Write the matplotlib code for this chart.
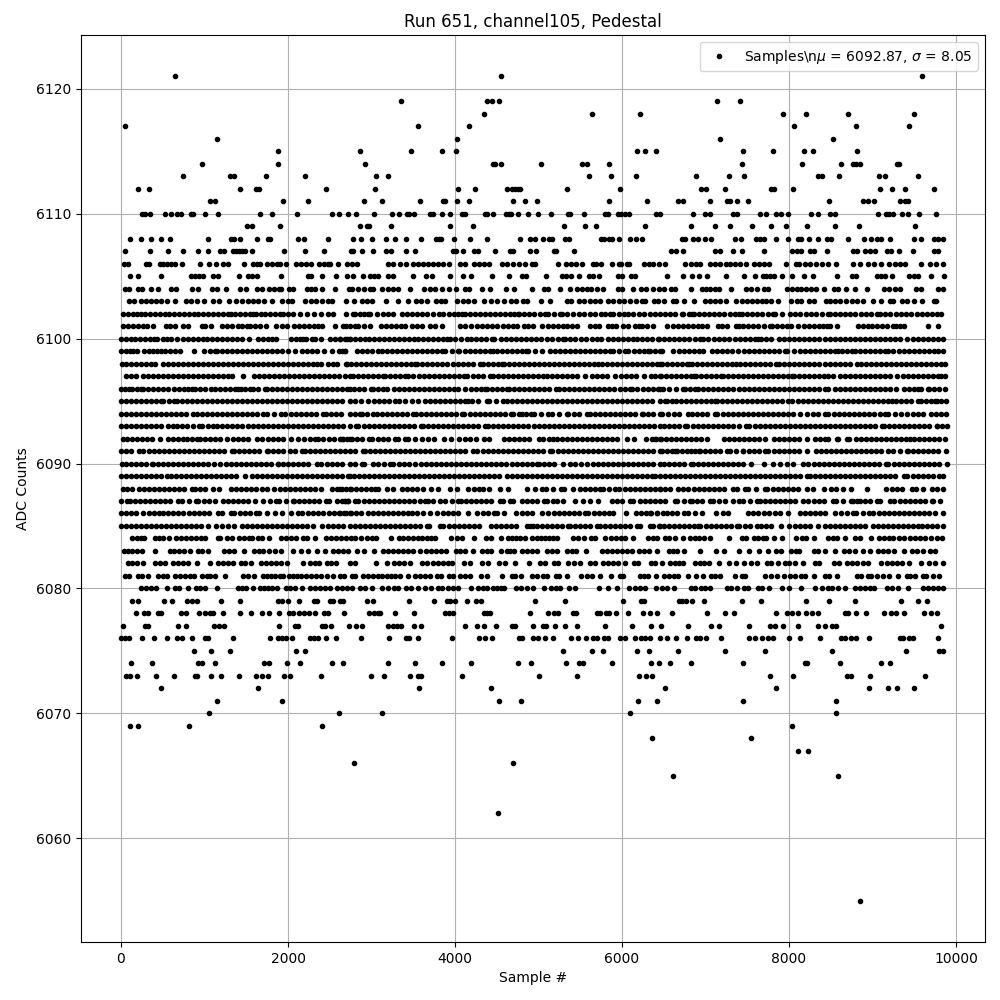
"""
Pedestal scatter for run 651, channel 105.
Sample positions are read off the picture, one list per ADC level.
Levels 6085-6102 are too dense to separate single dots, so those lists are
hand estimates that follow the visible runs and gaps, not exact samples.
"""

import matplotlib
matplotlib.use("Agg")
import matplotlib.pyplot as plt

adc_6121 = [650, 4555, 9598]
adc_6119 = [3358, 4388, 4448, 4531, 7132, 7407]
adc_6118 = [4352, 5645, 6219, 7922, 8209, 8712, 9502]
adc_6117 = [52, 3562, 4172, 8054, 8808, 9442]
adc_6116 = [1153, 4029, 7168, 8532]
adc_6115 = [1883, 2865, 3478, 3849, 4017, 6183, 6279, 6411, 7443, 7814, 8185, 8293, 8820]
adc_6114 = [973, 1883, 2925, 4460, 4484, 4555, 5034, 5525, 5585, 5848, 7431, 8161, 8628, 8772, 8808, 8856, 9291, 9314]
adc_6113 = [746, 1305, 1353, 1739, 2206, 3056, 3203, 5609, 5872, 6171, 6881, 7276, 7455, 8353, 8389, 8604, 9083, 9155, 9550]
adc_6112 = [207, 339, 1428, 1616, 1648, 2458, 3044, 4041, 4244, 4627, 4687, 4723, 4759, 4783, 5345, 5980, 6940, 7000, 7228, 7790, 7826, 8042, 9095, 9239, 9394, 9741]
adc_6111 = [1069, 1129, 1943, 2242, 2912, 3131, 3586, 3861, 3885, 4029, 4172, 4699, 4843, 4986, 5848, 6303, 6674, 6725, 7048, 7252, 7299, 7383, 7503, 8473, 8880, 8951, 9023, 9334, 9394, 9430]
adc_6110 = [255, 287, 351, 530, 602, 666, 714, 842, 866, 1009, 1165, 1668, 1811, 2110, 2529, 2613, 2721, 2817, 3032,
            3251, 3334, 3430, 3454, 3514, 3705, 3741, 3849, 3945, 4089, 4124, 4364, 4388, 4460, 4615, 4651, 4675, 4759, 4879, 4998, 5154, 5357, 5377, 5549, 5800, 5836, 5956, 5992, 6040, 6087, 6411, 6459,
            6845, 6988, 7048, 7335, 7383, 7647, 7730, 7850, 7898, 7982, 8269, 8353, 8496, 8556, 9063, 9167, 9203, 9251, 9358, 9430, 9562, 9765]
adc_6109 = [1512, 1572, 1907, 2865, 2948, 2972, 3239, 3945, 4220, 5309, 5561, 5693, 6279, 6821, 7108, 7299, 7551, 7790, 7958, 8221, 8556, 8844, 9514]
adc_6108 = [112, 243, 363, 483, 590, 1045, 1320, 1356, 1428, 1632, 1763, 1783, 2122, 2194, 2482, 2781, 2877, 3008,
            3179, 3287, 3418, 3598, 3777, 3813, 3837, 3993, 4184, 4388, 4783, 4902, 4962, 5054, 5130, 5166, 5321, 5369, 5752, 5788, 5848, 5884, 5968, 6099, 6171, 6243,
            6713, 6749, 6845, 6904, 6988, 7060, 7359, 7419, 7599, 7647, 7706, 7850, 7982, 8113, 8149, 8245, 8353, 8449, 8508, 8712, 8903, 8987, 9059, 9107, 9215, 9502, 9586, 9741, 9789, 9849]
adc_6107 = [52, 351, 566, 746, 925, 1045, 1189, 1237, 1344, 1380, 1416, 1452, 1490, 1564, 1955, 2206, 2434, 2757, 2781, 2889, 3020,
            3179, 3239, 3418, 3526, 3981, 4017, 4100, 4232, 4280, 4484, 4663, 4699, 4902, 4974, 5190, 5214, 5429, 6590, 6650,
            6725, 7108, 7168, 7335, 7431, 7695, 8030, 8090, 8149, 8257, 8305, 8449, 8772, 8820, 8915, 8975, 9035, 9179, 9227, 9322, 9490, 9741, 9789]
adc_6106 = [40, 88, 303, 339, 471, 507, 554, 602, 650, 734, 949, 1057, 1141, 1225, 1285, 1476, 1584, 1632, 1668, 1751, 1811, 1871, 1907, 1979, 2099, 2158, 2218, 2278, 2374, 2434, 2482, 2505, 2601, 2709, 2769, 2829,
            3203, 3263, 3346, 3418, 3502, 3562, 3622, 3682, 3741, 3801, 3861, 3933, 4065, 4124, 4232, 4292, 4352, 4412, 4567, 4627, 4699, 4771, 4843, 4927, 4962, 5238, 5333, 5393, 5453, 5525, 5657, 5693, 5752, 5884, 5968, 5992, 6063, 6087, 6267, 6327, 6375, 6447, 6519,
            6749, 6821, 6881, 6928, 7048, 7108, 7168, 7240, 7299, 7359, 7407, 7479, 7575, 7635, 7695, 7766, 7958, 8078, 8125, 8197, 8257, 8329, 8389, 8461, 8568, 8772, 8856, 8951, 9023, 9107, 9203, 9275, 9334, 9394, 9586, 9693, 9765, 9849]
adc_6105 = [112, 207, 483, 842, 889, 937, 985, 1105, 1165, 1416, 1524, 1572, 1632, 1919, 2242, 2278, 2410, 2577, 2709, 2781, 2900, 2984, 3032, 3080,
            3203, 3263, 3502, 3658, 3729, 3945, 4100, 4196, 4448, 4651, 4807, 4855, 5094, 5285, 5333, 5393, 5489, 5609, 5657, 5729, 5956, 6004, 6111, 6159, 6542,
            6725, 6833, 6916, 7012, 7240, 7455, 7587, 7683, 7730, 7778, 7826, 7910, 8030, 8185, 8293, 8580, 8760, 8808, 9059, 9107, 9155, 9239, 9442, 9502, 9550, 9705, 9861]
adc_6104 = [52, 100, 207, 255, 363, 447, 602, 662, 853, 925, 1093, 1153, 1261, 1428, 1500, 1632, 1692, 1775, 1835, 1895, 1919, 2015, 2063, 2230, 2278, 2326, 2410, 2565, 2733, 2769, 2841, 2913, 2984, 3020,
            3131, 3203, 3263, 3322, 3466, 3634, 3705, 3765, 3849, 3933, 4017, 4124, 4172, 4328, 4424, 4615, 4711, 4927, 5070, 5118, 5262, 5381, 5465, 5525, 5585, 5633, 5704, 5776, 5956, 6004, 6135, 6231, 6291, 6375, 6447, 6506, 6590, 6638,
            6821, 6952, 7000, 7048, 7108, 7156, 7311, 7479, 7539, 7611, 7695, 7754, 7970, 8030, 8090, 8149, 8209, 8269, 8329, 8413, 8544, 8592, 8688, 8796, 8939, 9143, 9203, 9275, 9334, 9526, 9586, 9789, 9849]
adc_6103 = [100, 159, 243, 303, 363, 423, 483, 554, 650, 782, 842, 913, 997, 1105, 1177, 1297, 1380, 1452, 1524, 1584, 1644, 1715, 1811, 1931, 2003, 2051, 2206, 2278, 2338, 2410, 2482, 2529, 2697, 2793, 2889, 2948, 3008,
            3179, 3322, 3442, 3538, 3598, 3670, 3777, 3837, 3885, 4029, 4100, 4160, 4232, 4352, 4436, 4507, 4591, 4675, 4735, 4819, 4867, 5034, 5142, 5345, 5393, 5489, 5549, 5621, 5681, 5740, 5836, 5896, 5968, 6028, 6099, 6171, 6243, 6279, 6387, 6435, 6506, 6614, 6650,
            6737, 6857, 6988, 7048, 7108, 7168, 7240, 7371, 7431, 7491, 7551, 7611, 7671, 7730, 7790, 7874, 8018, 8090, 8149, 8245, 8305, 8437, 8496, 8556, 8616, 8688, 8760, 8820, 8891, 9011, 9107, 9215, 9251, 9358, 9418, 9502, 9598, 9741, 9765]
adc_6102 = [19, 87, 140, 195, 235, 290, 350, 412, 468, 525, 580, 634, 698, 755, 812, 870, 925, 985, 1042, 1100, 1160, 1222, 1284, 1312, 1370, 1428, 1490, 1540, 1583,
            1615, 1675, 1730, 1790, 1850, 1903, 1935, 1995, 2054, 2142, 2230, 2310, 2393, 2481, 2541, 2696, 2776, 2804, 2860, 2915, 2963, 2983, 3063, 3135, 3195, 3254,
            3362, 3420, 3480, 3545, 3600, 3665, 3733, 3813, 3861, 3925, 3985, 4040, 4080, 4120, 4180, 4240, 4305, 4360, 4420, 4480, 4540, 4600, 4655, 4710, 4751,
            4771, 4830, 4890, 4950, 5015, 5078, 5118, 5190, 5257, 5277, 5345, 5415, 5485, 5549, 5616, 5680, 5745, 5800, 5856, 5896, 5960, 6020, 6075, 6127,
            6203, 6265, 6330, 6390, 6454, 6515, 6575, 6640, 6716, 6736, 6800, 6836, 6868, 6925, 6985, 7045, 7105, 7165, 7225, 7290, 7350, 7406, 7434, 7495, 7555, 7620, 7680, 7745, 7805, 7833, 7913,
            8013, 8075, 8135, 8200, 8260, 8320, 8400, 8464, 8491, 8550, 8610, 8675, 8735, 8795, 8860, 8920, 8985, 9050, 9090, 9155, 9215, 9280, 9340, 9400, 9465, 9530, 9590, 9650, 9710, 9768, 9816]
adc_6101 = [19, 87, 145, 200, 260, 307, 386, 534, 590, 646, 738, 805, 965, 1005, 1073, 1204, 1265, 1330, 1404, 1444, 1504, 1544, 1605, 1670, 1735, 1855, 1923, 1982,
            2070, 2130, 2190, 2250, 2310, 2365, 2413, 2561, 2700, 2656, 2745, 2804, 2843, 2910, 2983, 3111, 3170, 3230, 3290, 3350, 3402, 3482, 3545, 3610, 3700, 3765, 3841,
            4060, 4125, 4190, 4260, 4320, 4380, 4445, 4500, 4571, 4635, 4690, 4739, 4826, 4880, 4930, 5046, 5110, 5170, 5230, 5290, 5345, 5400, 5457, 5616, 5675, 5728, 5836, 5885, 5928,
            6008, 6070, 6150, 6207, 6235, 6305, 6375, 6544, 6605, 6665, 6725, 6785, 6845, 6905, 6960, 7015, 7155, 7195, 7255, 7367, 7406, 7446, 7505, 7566,
            7634, 7700, 7773, 7801, 7860, 7920, 7975, 8025, 8113, 8175, 8235, 8295, 8355, 8410, 8452, 8491, 8579, 8831, 8890, 8950, 8990, 9050, 9110, 9175, 9242, 9282, 9330, 9377, 9669, 9788]
adc_6100 = [4, 60, 115, 167, 225, 285, 345, 395, 434, 506, 555, 598, 674, 746, 805, 865, 925, 977, 1035, 1095, 1155, 1215, 1275, 1335, 1395, 1444, 1531,
            1643, 1700, 1760, 1810, 1851, 2030, 2090, 2140, 2182, 2214, 2282, 2322, 2401, 2501, 2560, 2620, 2680, 2741, 2624, 2704, 2744, 2805, 2863, 2923, 2975, 3035, 3095, 3155, 3215, 3275, 3335, 3395, 3455, 3510, 3562,
            3614, 3675, 3735, 3795, 3855, 3905, 3941, 4000, 4070, 4140, 4188, 4250, 4310, 4375, 4440, 4471, 4547, 4607, 4665, 4725, 4785, 4845, 4905, 4965, 5025, 5098, 5158, 5230, 5297,
            5317, 5380, 5440, 5505, 5569, 5636, 5695, 5748, 5836, 5895, 5955, 6015, 6075, 6127, 6183, 6245, 6305, 6355, 6434, 6437, 6500, 6560, 6620, 6680, 6745, 6805, 6870, 6935,
            6975, 7035, 7100, 7160, 7223, 7287, 7350, 7410, 7470, 7530, 7590, 7626, 7662, 7725, 7781, 7885, 7945, 8005, 8065, 8125, 8185, 8245, 8305, 8365, 8425, 8485, 8545, 8605, 8665, 8725, 8785, 8845, 8905, 8965, 9030,
            9090, 9150, 9210, 9270, 9330, 9409, 9481, 9541, 9600, 9660, 9720, 9780, 9840]
adc_6099 = [4, 55, 105, 147, 195, 275, 330, 385, 435, 474, 526, 585, 645, 706, 877, 993, 1060, 1125, 1145, 1205, 1265, 1325, 1385, 1445, 1505, 1565, 1625, 1685, 1745, 1805, 1870, 1934,
            2002, 2082, 2170, 2230, 2290, 2342, 2429, 2521, 2613, 2681, 2644, 2684, 2831, 2885, 2943, 3003, 3083, 3123, 3185, 3245, 3305, 3365, 3425, 3485, 3545, 3605, 3665, 3725, 3785, 3841,
            3881, 3960, 4040, 4052, 4115, 4175, 4235, 4295, 4355, 4415, 4459, 4499, 4560, 4620, 4680, 4740, 4800, 4846, 4878, 4955, 5038, 5138, 5197, 5260, 5320, 5380, 5440, 5500, 5560, 5620, 5680, 5740, 5800, 5856,
            5888, 5960, 6035, 6075, 6140, 6200, 6260, 6315, 6335, 6395, 6454, 6477, 6616, 6680, 6740, 6800, 6860, 6920, 6975, 7075, 7135, 7195, 7255, 7315, 7394, 7455, 7515, 7575, 7635, 7695, 7755, 7815, 7875, 7953,
            7981, 8060, 8132, 8192, 8255, 8315, 8375, 8435, 8495, 8555, 8591, 8631, 8690, 8751, 8791, 8850, 8915, 8975, 9035, 9095, 9150, 9190, 9250, 9315, 9375, 9435, 9495, 9555, 9615, 9675, 9735, 9788, 9848]
adc_6098 = [7, 65, 125, 185, 245, 305, 365, 406, 506, 565, 625, 685, 745, 805, 865, 925, 985, 1045, 1105, 1165, 1225, 1285, 1345, 1405, 1465, 1525, 1585, 1645, 1705, 1765, 1825, 1885, 1945, 2005, 2065, 2122,
            2182, 2240, 2300, 2342, 2401, 2481, 2541, 2589, 2701, 2696, 2755, 2815, 2875, 2935, 2995, 3055, 3115, 3175, 3235, 3295, 3355, 3415, 3475, 3522, 3550, 3610, 3670, 3730, 3790, 3850, 3910, 3970, 4030, 4090, 4150, 4210, 4300,
            4332, 4395, 4455, 4510, 4559, 4591, 4650, 4710, 4770, 4830, 4890, 4950, 5010, 5070, 5130, 5190, 5250, 5310, 5370, 5430, 5490, 5550, 5610, 5670, 5716, 5756, 5815, 5875, 5935, 5995, 6055, 6115, 6175, 6235, 6295, 6355, 6415, 6454,
            6475, 6535, 6595, 6655, 6715, 6775, 6808, 6836, 6895, 6955, 7015, 7075, 7135, 7195, 7255, 7315, 7367, 7414, 7474, 7535, 7595, 7655, 7715, 7775, 7845,
            7885, 7945, 8005, 8065, 8125, 8185, 8245, 8305, 8365, 8425, 8485, 8545, 8605, 8665, 8725, 8810, 8859, 8920, 8980, 9040, 9100, 9160, 9220, 9280, 9340, 9400, 9460, 9520, 9580, 9640, 9700, 9760, 9820, 9868]
adc_6097 = [59, 120, 179, 259, 320, 380, 440, 500, 560, 620, 680, 740, 800, 860, 920, 980, 1040, 1100, 1160, 1220, 1280, 1324, 1464, 1595, 1655, 1715, 1775, 1835, 1895, 1955, 2015, 2075, 2135, 2195, 2255, 2315, 2375, 2435, 2495, 2555, 2615, 2680, 2741,
            2776, 2835, 2895, 2955, 3015, 3075, 3143, 3163, 3225, 3285, 3345, 3402, 3442, 3502, 3565, 3625, 3685, 3745, 3805, 3865, 3925, 3985, 4045, 4108, 4148, 4210, 4270, 4330, 4420,
            4451, 4510, 4570, 4630, 4690, 4750, 4810, 4870, 4930, 4990, 5058, 5106, 5165, 5225, 5285, 5345, 5405, 5465, 5557, 5636, 5704, 5765, 5825, 5916, 5984, 6045, 6105, 6165, 6263, 6343, 6400, 6454,
            6465, 6525, 6585, 6645, 6705, 6765, 6825, 6864, 6888, 6950, 7010, 7070, 7130, 7183, 7207, 7265, 7325, 7385, 7445, 7505, 7565, 7625, 7685, 7745, 7805, 7865, 7925, 7985, 8033,
            8061, 8120, 8180, 8240, 8300, 8360, 8420, 8472, 8532, 8611, 8670, 8730, 8790, 8850, 8910, 8970, 9030, 9090, 9150, 9210, 9298, 9360, 9420, 9480, 9540, 9600, 9660, 9720, 9780, 9825, 9868]
adc_6096 = [4, 50, 99, 135, 190, 235, 267, 325, 385, 445, 505, 566, 634, 695, 755, 800, 845, 885, 945, 1005, 1073, 1125, 1185, 1245, 1305, 1365, 1404, 1432, 1490, 1544, 1576, 1640, 1723,
            1743, 1805, 1865, 1925, 1985, 2045, 2105, 2165, 2225, 2285, 2345, 2405, 2465, 2525, 2585, 2645, 2705, 2741, 2785, 2845, 2905, 2991, 3015, 3080, 3143, 3190, 3270, 3330, 3390, 3450, 3510, 3570, 3630, 3690, 3750, 3810, 3870, 3930, 3990, 4040, 4116,
            4188, 4250, 4310, 4360, 4380, 4440, 4500, 4560, 4619, 4651, 4710, 4770, 4830, 4890, 4950, 5010, 5070, 5130, 5209, 5250, 5310, 5370, 5430, 5490, 5550, 5610, 5670, 5730, 5790, 5850, 5910, 5970, 6030, 6095, 6115, 6183,
            6247, 6310, 6370, 6430, 6454, 6490, 6568, 6648, 6728, 6760, 6820, 6876, 6915, 6975, 7035, 7095, 7155, 7215, 7275, 7335, 7395, 7455, 7515, 7575, 7635, 7695, 7755, 7815, 7875, 7935, 7995, 8055, 8115, 8175, 8235, 8295, 8355, 8432,
            8472, 8551, 8611, 8670, 8730, 8790, 8850, 8910, 8970, 9030, 9090, 9150, 9210, 9282, 9377, 9440, 9500, 9549, 9577, 9661, 9681, 9740, 9800, 9868]
adc_6095 = [4, 60, 120, 180, 240, 300, 360, 420, 474, 506, 570, 630, 674, 725, 785, 845, 905, 965, 1025, 1085, 1145, 1205, 1265, 1325, 1385, 1445, 1505, 1565, 1625, 1685, 1745, 1805, 1865, 1925, 1985, 2045, 2105, 2165, 2225, 2285, 2345, 2405, 2465, 2525, 2585, 2645, 2741,
            2800, 2871, 2963, 3025, 3085, 3145, 3205, 3282, 3334, 3400, 3482, 3562, 3641, 3700, 3760, 3820, 3880, 3940, 4000, 4060, 4120, 4160, 4208, 4280, 4380, 4411, 4490, 4579,
            4619, 4680, 4740, 4800, 4860, 4920, 4980, 5040, 5100, 5160, 5220, 5280, 5340, 5400, 5460, 5520, 5580, 5640, 5700, 5760, 5820, 5880, 5940, 6000, 6060, 6120, 6180, 6240, 6300, 6360, 6454,
            6520, 6536, 6596, 6648, 6710, 6770, 6830, 6890, 6950, 7010, 7060, 7115, 7135, 7195, 7255, 7315, 7375, 7435, 7495, 7555, 7615, 7675, 7735, 7795, 7855, 7915, 7993, 8033, 8113,
            8164, 8225, 8285, 8345, 8405, 8465, 8525, 8585, 8645, 8705, 8765, 8825, 8885, 8945, 9005, 9065, 9125, 9190, 9230, 9282, 9345, 9405, 9465, 9549, 9577, 9640, 9700, 9748, 9768, 9825, 9880]
adc_6094 = [4, 60, 120, 180, 240, 300, 360, 420, 480, 540, 600, 660, 720, 780, 865, 905, 965, 1025, 1085, 1145, 1205, 1265, 1325, 1385, 1445, 1505, 1565, 1625, 1703, 1751, 1830, 1911, 1970, 2030, 2090, 2150, 2210, 2270, 2330, 2421, 2461, 2520, 2580, 2640, 2741,
            2800, 2863, 2883, 2950, 3015, 3071, 3130, 3190, 3250, 3310, 3370, 3430, 3494, 3534, 3595, 3655, 3715, 3775, 3835, 3895, 3955, 4015, 4080, 4112, 4175, 4235, 4295, 4355, 4415, 4475, 4535, 4595, 4667, 4691, 4771, 4799, 4850, 4906, 4950, 5035, 5118, 5158, 5240, 5337,
            5357, 5420, 5480, 5585, 5616, 5680, 5740, 5800, 5860, 5920, 5980, 6040, 6100, 6160, 6235, 6255, 6315, 6375, 6454, 6477, 6556, 6620, 6680, 6796, 6836, 6900, 6960, 7020, 7115,
            7143, 7205, 7265, 7325, 7385, 7445, 7505, 7565, 7625, 7685, 7745, 7805, 7865, 7925, 7985, 8045, 8132, 8220, 8285, 8345, 8432, 8472, 8535, 8595, 8655, 8715, 8775, 8835, 8895, 8955, 9015, 9090, 9150, 9190, 9270, 9340, 9417, 9481, 9545, 9609, 9697, 9760, 9820, 9880]
adc_6093 = [4, 60, 120, 180, 240, 300, 360, 420, 480, 566, 618, 674, 735, 795, 860, 933, 965, 1045, 1105, 1153, 1215, 1275, 1335, 1395, 1455, 1515, 1575, 1635, 1695, 1755, 1815, 1875, 1935, 1995, 2055, 2115, 2175, 2235, 2295, 2355, 2415, 2475, 2535, 2595, 2655, 2741,
            2815, 2843, 2905, 2965, 3025, 3085, 3145, 3205, 3265, 3325, 3385, 3445, 3505, 3590, 3614, 3675, 3735, 3795, 3855, 3915, 3975, 4035, 4095, 4155, 4215, 4275, 4360,
            4400, 4460, 4520, 4580, 4640, 4700, 4760, 4820, 4880, 4940, 5000, 5060, 5120, 5180, 5240, 5300, 5360, 5420, 5480, 5540, 5600, 5660, 5720, 5780, 5840, 5900, 5960, 6020, 6080, 6140, 6200, 6260, 6320, 6380, 6454,
            6497, 6560, 6620, 6680, 6756, 6776, 6856, 6915, 6975, 7035, 7095, 7155, 7215, 7275, 7335, 7395, 7486, 7526, 7590, 7650, 7710, 7770, 7830, 7890, 7950, 8010, 8070, 8130, 8190, 8250, 8310, 8370, 8430, 8490, 8550, 8610, 8670, 8730, 8790, 8850, 8910, 8970, 9030, 9110,
            9138, 9200, 9260, 9320, 9380, 9440, 9500, 9560, 9620, 9680, 9768, 9776, 9830, 9888]
adc_6092 = [19, 75, 135, 195, 255, 315, 375, 466, 566, 625, 685, 738, 793, 855, 913, 945, 1005, 1065, 1125, 1185, 1272, 1344, 1405, 1465, 1525, 1631, 1691, 1755, 1815, 1875, 1935, 2030, 2122, 2190, 2260, 2322, 2361, 2425, 2485, 2545, 2621, 2661, 2741,
            2644, 2705, 2765, 2825, 2885, 2975, 3011, 3075, 3135, 3195, 3282, 3322, 3402, 3442, 3520, 3602, 3681, 3745, 3869, 3949, 4052, 4120, 4185, 4250, 4348, 4411, 4587, 4650, 4710, 4770, 4830, 4890, 5010, 5050, 5120, 5177,
            5218, 5280, 5340, 5400, 5460, 5520, 5580, 5640, 5700, 5760, 5820, 5880, 5940, 6055, 6147, 6287, 6355, 6406, 6454, 6397, 6465, 6525, 6585, 6645, 6705, 6765, 6825, 6885, 6945, 7015,
            7223, 7285, 7345, 7405, 7465, 7525, 7585, 7645, 7714, 7821, 7885, 7945, 8005, 8065, 8125, 8212, 8312, 8372, 8432, 8472, 8571, 8591, 8699, 8723, 8803, 8859, 8920, 8980, 9040, 9100, 9160, 9220, 9280, 9340, 9400, 9449,
            9497, 9560, 9620, 9680, 9740, 9800, 9868]
adc_6091 = [4, 60, 120, 219, 267, 330, 390, 450, 510, 570, 630, 690, 750, 810, 870, 930, 990, 1050, 1110, 1170, 1230, 1324, 1352, 1415, 1475, 1535, 1595, 1655, 1743, 1763, 1825, 1885, 1945, 2022, 2082, 2162, 2202, 2265, 2325, 2385, 2445, 2505, 2565, 2625, 2685, 2741,
            2800, 2903, 2923, 2985, 3045, 3105, 3165, 3225, 3285, 3345, 3405, 3465, 3525, 3585, 3645, 3705, 3765, 3825, 3885, 3945, 4005, 4065, 4125, 4212, 4268, 4330, 4390, 4450, 4510, 4570, 4630, 4690, 4750, 4810, 4870, 4930, 4990, 5050, 5138,
            5166, 5230, 5290, 5350, 5410, 5470, 5530, 5590, 5650, 5710, 5770, 5830, 5890, 5950, 6010, 6070, 6130, 6190, 6250, 6310, 6370, 6454, 6480, 6540, 6600, 6636, 6656, 6720, 6784, 6824, 6880, 6927, 6935, 6995, 7055, 7115, 7175, 7263,
            7295, 7370, 7446, 7454, 7520, 7580, 7640, 7714, 7753, 7815, 7875, 7935, 7995, 8055, 8115, 8220, 8324, 8385, 8445, 8505, 8565, 8625, 8685, 8745, 8805, 8865, 8925, 8985, 9045, 9105, 9190, 9250, 9330, 9409, 9429, 9490, 9550, 9610, 9670, 9730, 9790, 9880]
adc_6090 = [7, 65, 125, 185, 245, 305, 366, 378, 440, 500, 560, 620, 680, 740, 800, 860, 920, 985, 1045, 1115, 1184, 1256, 1320, 1380, 1440, 1500, 1560, 1620, 1680, 1740, 1800, 1875, 1883, 1945, 2005, 2065, 2125, 2185, 2245, 2342, 2401, 2465, 2525, 2585, 2645, 2741,
            2800, 2883, 2911, 3023, 3083, 3150, 3222, 3262, 3325, 3385, 3445, 3522, 3594, 3655, 3715, 3775, 3835, 3895, 3955, 4015, 4075, 4135, 4195, 4255, 4315, 4375, 4435, 4495, 4555, 4615, 4679, 4739, 4799, 4860, 4920, 4986,
            5010, 5070, 5130, 5190, 5289, 5377, 5440, 5505, 5585, 5650, 5710, 5770, 5830, 5890, 5950, 6010, 6070, 6130, 6190, 6250, 6310, 6370, 6454, 6500, 6560, 6620, 6680, 6740, 6824, 6848, 6910, 6970, 7030, 7090, 7150, 7210, 7270, 7330, 7390, 7450, 7542,
            7702, 7813, 7893, 7973, 8053, 8165, 8232, 8295, 8355, 8415, 8475, 8535, 8595, 8655, 8715, 8775, 8835, 8895, 8955, 9015, 9075, 9162, 9190, 9255, 9315, 9375, 9435, 9495, 9555, 9615, 9675, 9735, 9795, 9888]
adc_6089 = [4, 60, 120, 180, 240, 300, 360, 420, 480, 546, 594, 655, 715, 775, 835, 895, 955, 1015, 1075, 1135, 1195, 1255, 1315, 1375, 1484, 1563, 1625, 1685, 1745, 1805, 1865, 1925, 1985, 2045, 2105, 2165, 2225, 2285, 2345, 2405, 2465, 2525, 2585, 2645, 2741,
            2724, 2785, 2845, 2905, 2965, 3025, 3085, 3145, 3205, 3265, 3325, 3385, 3445, 3505, 3565, 3625, 3685, 3745, 3805, 3865, 3925, 3985, 4045, 4105, 4165, 4225, 4285, 4345, 4405, 4465, 4525, 4619, 4679, 4740, 4800, 4860, 4920, 4980, 5040, 5100, 5160, 5220, 5280, 5340, 5400, 5460, 5520, 5580, 5640, 5700, 5760, 5820, 5880, 5940, 6000, 6060, 6120, 6180, 6240, 6300, 6360, 6454,
            6400, 6515, 6575, 6635, 6695, 6755, 6815, 6875, 6935, 6995, 7055, 7115, 7175, 7235, 7295, 7355, 7415, 7475, 7535, 7595, 7655, 7715, 7775, 7835, 7895, 7955, 8015, 8075, 8135, 8220, 8252, 8315, 8375, 8435, 8495, 8555, 8615, 8675, 8735, 8795, 8855, 8915, 8975, 9035, 9095, 9155, 9215, 9275, 9377, 9417, 9480, 9540, 9600, 9660, 9720, 9800, 9848]
adc_6088 = [19, 70, 127, 219, 280, 340, 400, 460, 520, 580, 640, 700, 760, 845, 885, 950, 1010, 1105, 1176, 1312, 1375, 1435, 1495, 1555, 1615, 1683, 1743, 1831, 1903, 1965, 2025, 2085, 2145, 2205, 2265, 2325, 2401, 2521, 2585, 2645, 2741,
            2624, 2690, 2750, 2810, 2870, 2930, 2990, 3043, 3083, 3183, 3254, 3362, 3420, 3482, 3542, 3622, 3709, 3801, 3941, 4020, 4160, 4225, 4285, 4332, 4408, 4539, 4631, 4866, 4958, 5038, 5090, 5175, 5265, 5305, 5409,
            5497, 5560, 5620, 5680, 5736, 5776, 5845, 5916, 5968, 6035, 6100, 6160, 6220, 6280, 6340, 6400, 6454, 6460, 6520, 6580, 6676, 6736, 6796, 6860, 6920, 6980, 7040, 7100, 7160, 7220, 7327, 7382, 7474, 7514, 7610, 7714,
            7742, 7805, 7865, 7925, 7985, 8045, 8105, 8220, 8284, 8420, 8499, 8563, 8650, 8739, 8938, 9162, 9230, 9295, 9355, 9469, 9521, 9610, 9708, 9768, 9840]
adc_6087 = [4, 67, 107, 170, 230, 290, 350, 410, 470, 530, 590, 686, 725, 810, 897, 925, 990, 1050, 1125, 1224, 1285, 1345, 1405, 1465, 1525, 1603, 1703, 1780, 1855, 1895, 1975, 2054, 2070, 2135, 2195, 2255, 2315, 2375, 2461, 2493, 2590, 2681, 2721,
            2644, 2684, 2724, 2804, 2843, 2905, 2965, 3025, 3085, 3145, 3205, 3265, 3325, 3385, 3445, 3505, 3582, 3641, 3681, 3733, 3821, 3881, 3960, 4040, 4068, 4130, 4190, 4250, 4310, 4370, 4430, 4539, 4571, 4659, 4699, 4799, 4860, 4920, 4980, 5066, 5098, 5177, 5218, 5289, 5437, 5529, 5620, 5716,
            5876, 5940, 6000, 6095, 6135, 6215, 6280, 6340, 6400, 6457, 6516, 6636, 6664, 6740, 6816, 6836, 6900, 6960, 7055, 7087, 7167, 7235, 7334, 7406, 7454, 7535, 7614, 7654, 7715, 7775, 7835, 7895, 7955, 8015, 8075, 8172, 8232, 8295, 8355, 8415, 8531,
            8563, 8650, 8739, 8771, 8811, 8851, 8915, 8975, 9050, 9090, 9210, 9262, 9325, 9385, 9445, 9505, 9565, 9625, 9708, 9728, 9808]
adc_6086 = [4, 60, 120, 180, 267, 339, 400, 458, 498, 566, 625, 686, 746, 810, 870, 930, 990, 1050, 1164, 1204, 1312, 1352, 1424, 1490, 1550, 1611, 1655, 1750, 1843, 1923, 2030, 2122, 2162, 2242, 2305, 2365, 2425, 2485, 2545, 2605, 2665, 2741,
            2624, 2690, 2750, 2810, 2870, 2963, 3015, 3080, 3140, 3200, 3260, 3320, 3380, 3442, 3482, 3550, 3620, 3700, 3781, 3853, 3920, 3980, 4040, 4160, 4268, 4332, 4400, 4467, 4499, 4587, 4731, 4800, 4858, 4918, 5046, 5118, 5180, 5240, 5300, 5360, 5420, 5480, 5557,
            5596, 5660, 5720, 5780, 5840, 5896, 6043, 6167, 6230, 6290, 6350, 6414, 6337, 6417, 6485, 6536, 6600, 6660, 6748, 6796, 6880, 6963, 7123, 7207, 7275, 7506, 7570, 7630, 7705, 7765, 7830, 7890, 7993,
            8133, 8195, 8255, 8315, 8375, 8435, 8551, 8619, 8691, 8763, 8803, 8880, 8959, 9010, 9075, 9135, 9195, 9255, 9315, 9375, 9435, 9495, 9555, 9615, 9675, 9748, 9840]
adc_6085 = [4, 60, 120, 180, 240, 300, 360, 420, 480, 540, 600, 660, 720, 780, 840, 900, 960, 1045, 1136, 1210, 1284, 1356, 1444, 1510, 1570, 1630, 1690, 1750, 1810, 1870, 1930, 1990, 2050, 2110, 2170, 2230, 2302, 2413, 2480, 2540, 2600, 2660, 2741,
            2800, 2860, 2920, 2980, 3040, 3100, 3160, 3220, 3280, 3340, 3400, 3460, 3520, 3580, 3661, 3693, 3821, 3861, 3925, 3985, 4045, 4105, 4165, 4225, 4292, 4427, 4490, 4550, 4610, 4670, 4730, 4858, 4898, 4930, 4978, 5040, 5100, 5160, 5220, 5280, 5357,
            5377, 5440, 5500, 5560, 5620, 5696, 5736, 5800, 5860, 5920, 5980, 6040, 6100, 6175, 6215, 6335, 6375, 6454, 6437, 6500, 6560, 6620, 6680, 6740, 6800, 6860, 6915, 6935, 7000, 7060, 7120, 7180, 7240, 7300, 7382, 7406, 7470, 7530, 7622,
            7662, 7730, 7790, 7905, 8005, 8070, 8130, 8190, 8250, 8352, 8432, 8495, 8555, 8615, 8675, 8735, 8795, 8855, 8911, 9003, 9065, 9125, 9185, 9245, 9305, 9365, 9425, 9485, 9541, 9589, 9650, 9710, 9770, 9848]
adc_6084 = [135, 195, 243, 279, 411, 459, 507, 578, 662, 722, 782, 842, 901, 961, 1009, 1165, 1189, 1273, 1333, 1416, 1476, 1536, 1572, 1644, 1692, 1775, 1919, 1979, 2039, 2099, 2182, 2230, 2322, 2458, 2517, 2577, 2637, 2697, 2757, 2805, 2877, 2948, 3008, 3056,
            3239, 3334, 3382, 3442, 3502, 3562, 3610, 3670, 3717, 3765, 3957, 4029, 4088, 4232, 4376, 4436, 4555, 4639, 4687, 4735, 4783, 4843, 4927, 4986, 5034, 5082, 5130, 5178, 5226, 5409, 5477, 5549, 5633, 5681, 5800, 5872, 5932, 5992, 6040, 6135, 6315, 6375, 6423, 6519, 6566, 6638,
            6725, 6809, 6869, 6916, 6976, 7048, 7276, 7431, 7479, 7575, 7623, 7683, 7730, 7826, 7910, 8078, 8161, 8209, 8305, 8461, 8532, 8580, 8676, 8796, 8856, 8987, 9083, 9143, 9203, 9251, 9322, 9382, 9454, 9514, 9574, 9634, 9705, 9777, 9837]
adc_6083 = [40, 88, 135, 195, 255, 411, 590, 638, 698, 758, 830, 925, 973, 1045, 1237, 1297, 1356, 1476, 1596, 1656, 1704, 1775, 1847, 1919, 2063, 2158, 2242, 2350, 2446, 2541, 2601, 2661, 2721, 2829, 2913, 3032,
            3143, 3203, 3263, 3322, 3382, 3442, 3502, 3586, 3658, 3717, 3777, 3837, 3897, 4017, 4065, 4124, 4220, 4328, 4388, 4436, 4555, 4627, 4663, 4711, 4807, 4867, 4927, 4986, 5106, 5166, 5226, 5345, 5405, 5453, 5573, 5764, 5824, 5884, 5944, 6004, 6063, 6123, 6207, 6267, 6327, 6423, 6566, 6614, 6662,
            6737, 6928, 7120, 7216, 7395, 7515, 7635, 7754, 7850, 7898, 8018, 8078, 8125, 8305, 8353, 8425, 8556, 8664, 8724, 8796, 8891, 8975, 9071, 9131, 9191, 9263, 9382, 9478, 9538, 9610, 9693, 9753]
adc_6082 = [88, 135, 195, 267, 411, 471, 530, 626, 686, 746, 806, 913, 1069, 1165, 1225, 1285, 1344, 1440, 1488, 1560, 1680, 1739, 1799, 1859, 1919, 1991, 2182, 2266, 2326, 2374, 2470, 2517, 2577, 2745, 2805, 3056,
            3191, 3275, 3334, 3394, 3466, 3610, 3670, 3741, 3801, 3861, 3921, 3969, 4112, 4184, 4328, 4400, 4531, 4603, 4723, 4891, 5022, 5082, 5190, 5238, 5357, 5429, 5501, 5621, 5681, 5776, 5836, 5896, 5956, 6040, 6147, 6195, 6351, 6399, 6483, 6578, 6638, 6686,
            6725, 6869, 6928, 6976, 7036, 7156, 7287, 7371, 7455, 7539, 7611, 7742, 7790, 7874, 7946, 7994, 8066, 8173, 8317, 8365, 8544, 8604, 8700, 8760, 8820, 8880, 8951, 9107, 9179, 9239, 9298, 9358, 9442, 9586, 9681, 9753, 9849]
adc_6081 = [52, 100, 207, 255, 327, 447, 507, 554, 650, 710, 770, 830, 878, 973, 1033, 1069, 1129, 1249, 1464, 1524, 1596, 1704, 1751, 1799, 1847, 1907, 1939, 2015, 2063, 2110, 2158, 2218, 2278, 2338, 2398, 2470, 2541, 2625, 2673, 2769, 2805, 2900, 2960, 3020, 3080,
            3131, 3191, 3239, 3287, 3346, 3442, 3526, 3586, 3646, 3705, 3789, 3837, 3933, 3981, 4065, 4124, 4184, 4316, 4388, 4567, 4687, 4723, 4795, 4927, 4986, 5058, 5106, 5214, 5250, 5345, 5513, 5585, 5645, 5740, 5872, 5980, 6016, 6219, 6267, 6315, 6407, 6506, 6566, 6626, 6674,
            6785, 6881, 6964, 7060, 7108, 7168, 7359, 7431, 7467, 7718, 7790, 7862, 7934, 8006, 8066, 8149, 8197, 8305, 8425, 8484, 8580, 8820, 8868, 8951, 8987, 9059, 9131, 9203, 9310, 9418, 9454, 9514, 9610, 9646, 9729, 9801]
adc_6080 = [243, 303, 363, 423, 554, 650, 698, 806, 901, 949, 1009, 1153, 1404, 1452, 1500, 1584, 1668, 1715, 1763, 1811, 1871, 1979, 2027, 2087, 2170, 2266, 2326, 2386, 2446, 2505, 2589, 2649, 2709, 2769, 2865, 2924, 3008,
            3131, 3203, 3275, 3322, 3418, 3478, 3562, 3646, 3717, 3801, 3849, 3921, 3981, 4041, 4196, 4280, 4340, 4388, 4460, 4507, 4555, 4591, 4735, 4795, 4867, 4939, 5070, 5154, 5214, 5262, 5369, 5441, 5728, 5836, 5944, 6087, 6159, 6219, 6279, 6411, 6483, 6542, 6626,
            6821, 6869, 6940, 6988, 7048, 7252, 7311, 7383, 7455, 7503, 7623, 7671, 7766, 7910, 7994, 8149, 8317, 8389, 8461, 8520, 8592, 8676, 8796, 8856, 8915, 8975, 9023, 9179, 9239, 9310, 9426, 9610, 9670, 9729, 9789, 9849]
adc_6079 = [135, 207, 518, 614, 794, 854, 913, 1201, 1428, 1883, 1931, 2003, 2134, 2314, 2350, 2505, 2541, 2625, 2661, 2948, 3020,
            3454, 3753, 3909, 3945, 4005, 4148, 4256, 4316, 4962, 5321, 6016, 6231, 6267, 6686,
            6713, 6761, 6833, 6976, 7431, 7659, 8209, 8484, 8796, 9346, 9550, 9657]
adc_6078 = [183, 279, 327, 447, 483, 722, 782, 937, 1009, 1069, 1105, 1225, 1428, 1560, 1692, 1775, 1895, 2015, 2063, 2134, 2194, 2254, 2326, 2434, 2482, 2673, 2972, 3032, 3080,
            3107, 3287, 3514, 3885, 3933, 3981, 4352, 4388, 4424, 4902, 5118, 5190, 5238, 5417, 5453, 5704, 5740, 5812, 5848, 5932, 6076, 6255, 6339, 6423, 6602,
            7012, 7228, 7347, 7850, 7970, 8030, 8102, 8209, 8281, 8353, 8676, 8712, 8808, 8927, 9143, 9227, 9287, 9382, 9622, 9705, 9777]
adc_6077 = [28, 291, 327, 686, 782, 1117, 1177, 1237, 1895, 2087, 2122, 2410, 2446, 2517, 2733, 2817, 2889,
            3203, 3263, 3310, 3358, 3514, 3598, 4124, 4268, 4352, 4496, 4687, 4723, 4938, 5058, 5094, 5202, 5321, 5465, 5800, 6123, 6351, 6471,
            6785, 7060, 7156, 7515, 7778, 7838, 7922, 8113, 8353, 8425, 8520, 8568, 9825]
adc_6076 = [4, 52, 100, 255, 399, 554, 674, 734, 853, 1009, 1045, 1344, 1787, 1883, 1931, 1979, 2051, 2266, 2314, 2362, 2458, 2577, 2877,
            3215, 3418, 3454, 3562, 3969, 4292, 4364, 4448, 4771, 4807, 4938, 4998, 5082, 5178, 5393, 5477, 5573, 5657, 5704, 5788, 5836, 5980, 6040, 6159, 6231, 6279, 6339, 6459, 6542, 6650,
            6773, 6881, 6928, 7000, 7180, 7515, 7587, 7671, 7754, 7814, 7994, 8137, 8377, 8628, 8676, 8748, 8808, 8963, 9334, 9370, 9442, 9490, 9789]
adc_6075 = [878, 1081, 1308, 2099, 2206, 5297, 5645, 5776, 6183, 6327, 6674, 7228, 7718, 8520, 9406, 9801, 9849]
adc_6074 = [123, 375, 925, 973, 1129, 1715, 1775, 1991, 2146, 2529, 2661, 3203, 3526, 3849, 4196, 4759, 4914, 5333, 5489, 5537, 5884, 6351, 6447, 6578, 6821, 7443, 8197, 8221, 8616, 9107, 9215]
adc_6073 = [64, 112, 195, 423, 638, 889, 913, 1081, 1201, 1416, 1620, 1692, 1763, 1955, 2027, 2398, 2996, 3155, 3466, 3562, 3598, 4088, 5010, 5465, 6207, 6291, 6363, 7778, 8042, 8700, 8748, 8975, 9634]
adc_6072 = [483, 1644, 3574, 4436, 6518, 7850, 8963, 9191, 9298, 9502]
adc_6071 = [1153, 1931, 4531, 4795, 6195, 6423, 7443, 8568]
adc_6070 = [1057, 2613, 3131, 6099, 8568]
adc_6069 = [112, 207, 818, 2410, 8030]
adc_6068 = [6363, 7539]
adc_6067 = [8102, 8233]
adc_6066 = [2793, 4699]
adc_6065 = [6614, 8592]
adc_6062 = [4516]
adc_6055 = [8845]

levels = [
    (6121, adc_6121), (6119, adc_6119), (6118, adc_6118), (6117, adc_6117),
    (6116, adc_6116), (6115, adc_6115), (6114, adc_6114), (6113, adc_6113),
    (6112, adc_6112), (6111, adc_6111), (6110, adc_6110), (6109, adc_6109),
    (6108, adc_6108), (6107, adc_6107), (6106, adc_6106), (6105, adc_6105),
    (6104, adc_6104), (6103, adc_6103), (6102, adc_6102), (6101, adc_6101),
    (6100, adc_6100), (6099, adc_6099), (6098, adc_6098), (6097, adc_6097),
    (6096, adc_6096), (6095, adc_6095), (6094, adc_6094), (6093, adc_6093),
    (6092, adc_6092), (6091, adc_6091), (6090, adc_6090), (6089, adc_6089),
    (6088, adc_6088), (6087, adc_6087), (6086, adc_6086), (6085, adc_6085),
    (6084, adc_6084), (6083, adc_6083), (6082, adc_6082), (6081, adc_6081),
    (6080, adc_6080), (6079, adc_6079), (6078, adc_6078), (6077, adc_6077),
    (6076, adc_6076), (6075, adc_6075), (6074, adc_6074), (6073, adc_6073),
    (6072, adc_6072), (6071, adc_6071), (6070, adc_6070), (6069, adc_6069),
    (6068, adc_6068), (6067, adc_6067), (6066, adc_6066), (6065, adc_6065),
    (6062, adc_6062), (6055, adc_6055),
]

samples = []
counts = []
for level, xs in levels:
    samples.extend(xs)
    counts.extend([level] * len(xs))

fig, ax = plt.subplots(figsize=(10, 10), dpi=100)
ax.plot(samples, counts, 'k.', label=r'Samples\n$\mu$ = 6092.87, $\sigma$ = 8.05')
ax.set_xlim(-479, 10347)
ax.set_title('Run 651, channel105, Pedestal')
ax.set_xlabel('Sample #')
ax.set_ylabel('ADC Counts')
ax.grid(True)
ax.legend(loc='upper right')
fig.subplots_adjust(left=0.081, right=0.985, top=0.965, bottom=0.058)
fig.savefig('out.png')
